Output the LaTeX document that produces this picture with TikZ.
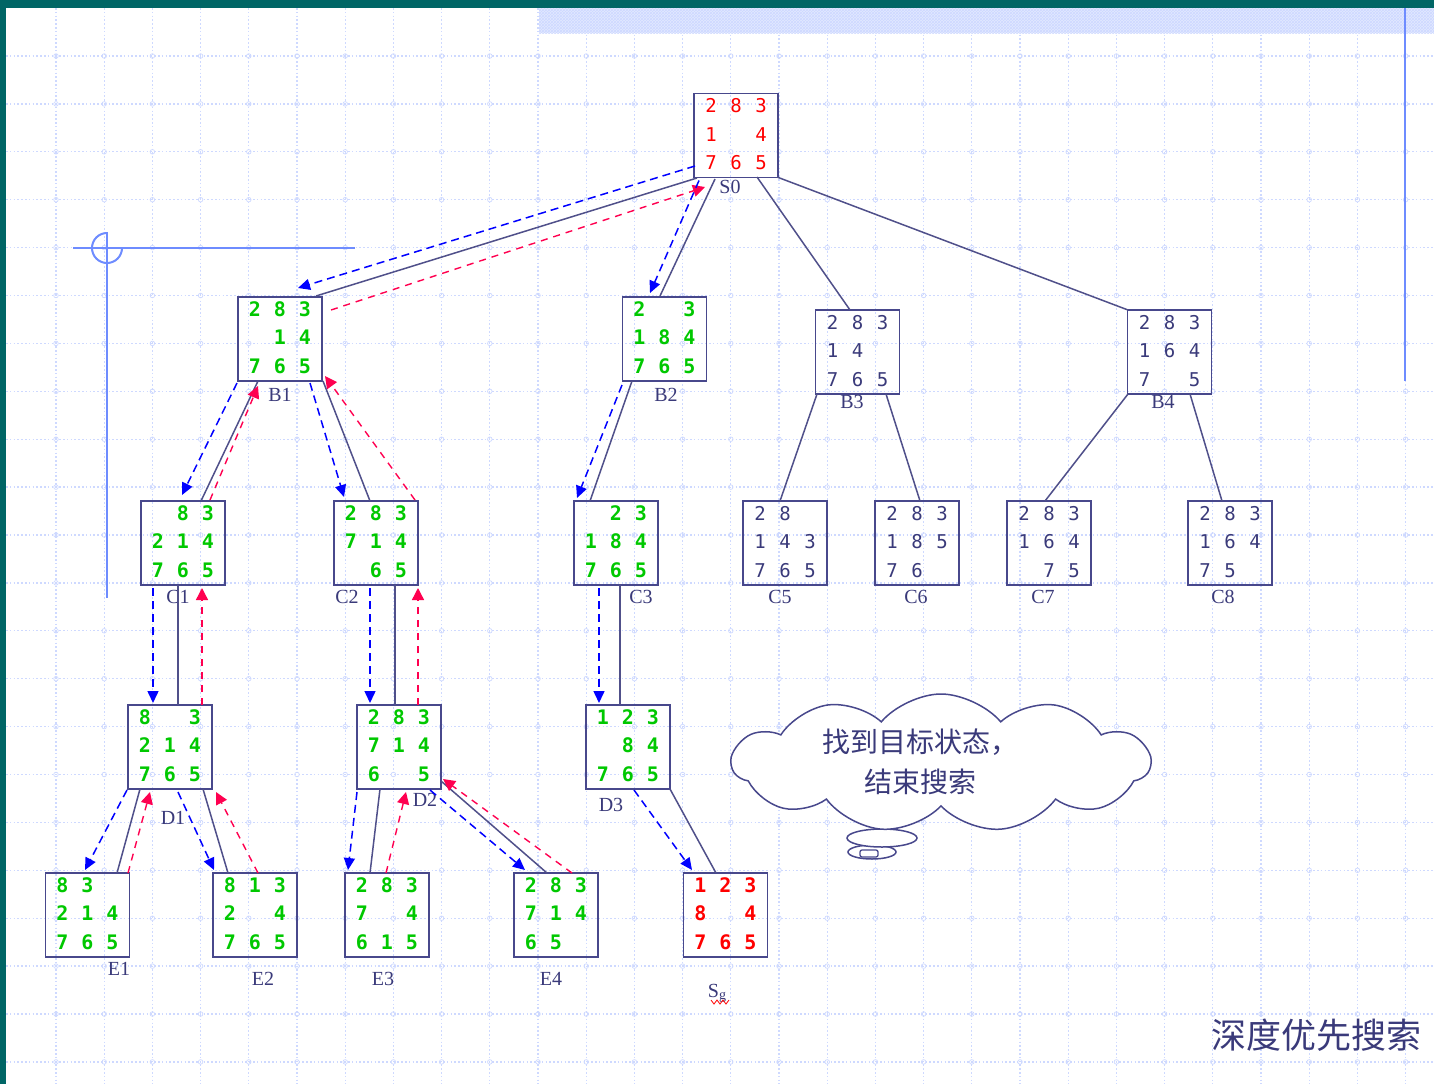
\documentclass[tikz,border=0pt]{standalone}
\usepackage{fontspec}
\usepackage{array}
\setmainfont{Liberation Serif}
\newfontfamily\digitfont{DejaVu Sans Mono}
\newfontfamily\cjk{Noto Sans CJK SC}
\usetikzlibrary{arrows.meta,shapes.symbols,patterns}

\definecolor{tealband}{RGB}{0,102,102}
\definecolor{gridc}{RGB}{206,217,255}
\definecolor{bandc}{RGB}{226,233,255}
\definecolor{guidec}{RGB}{110,140,255}
\definecolor{boxc}{RGB}{72,72,140}
\definecolor{edgec}{RGB}{80,80,138}
\definecolor{inkc}{RGB}{58,58,122}
\definecolor{greenc}{RGB}{0,200,0}
\definecolor{redc}{RGB}{255,0,0}
\definecolor{backc}{RGB}{255,0,80}

% three-by-three board, fixed 25pt cells
\newcommand\cells[9]{\begin{tabular}{@{}wc{25pt}@{}wc{25pt}@{}wc{25pt}@{}}#1&#2&#3\\#4&#5&#6\\#7&#8&#9\end{tabular}}

\tikzset{
  gridl/.style={draw=gridc, line width=1.3pt, dash pattern=on 1.6pt off 2.2pt},
  guide/.style={draw=guidec, line width=2pt},
  pbox/.style={draw=boxc, line width=1.8pt, minimum width=84pt, minimum height=84pt, inner sep=0pt},
  greendig/.style={text=greenc, inner sep=0pt, font=\digitfont\bfseries\fontsize{20}{28.5}\selectfont},
  reddig/.style={text=redc, inner sep=0pt, font=\digitfont\fontsize{19}{28.5}\selectfont},
  redbold/.style={text=redc, inner sep=0pt, font=\digitfont\bfseries\fontsize{20}{28.5}\selectfont},
  darkdig/.style={text=inkc, inner sep=0pt, font=\digitfont\fontsize{19}{28.5}\selectfont},
  lbl/.style={text=inkc, inner sep=0pt, font=\fontsize{20}{20}\selectfont},
  treeedge/.style={draw=edgec, line width=1.5pt},
  godown/.style={draw=blue, line width=1.5pt, dash pattern=on 8pt off 5pt, -{Triangle[length=12pt,width=11pt]}},
  goback/.style={draw=backc, line width=1.4pt, dash pattern=on 7pt off 6pt, -{Triangle[length=12pt,width=12pt]}},
}

\begin{document}
\begin{tikzpicture}[x=1pt,y=-1pt]
\useasboundingbox (0,0) rectangle (1434,1084);
\fill[white] (0,0) rectangle (1434,1084);

% dotted background grid
\foreach \i in {0,...,28} \draw[gridl] ({56+48.2*\i},8) -- ({56+48.2*\i},1084);
\foreach \j in {0,...,21} \draw[gridl] (6,{56+47.9*\j}) -- (1434,{56+47.9*\j});
\foreach \i in {0,...,28} \foreach \j in {0,...,21}
  \draw[gridc, line width=0.7pt] ({56+48.2*\i},{56+47.9*\j}) circle[radius=2.3];

% hatched band and frame
\fill[bandc] (539,8) rectangle (1434,33);
\fill[pattern=crosshatch, pattern color=gridc] (539,8) rectangle (1434,33);
\fill[tealband] (0,0) rectangle (1434,8);
\fill[tealband] (0,0) rectangle (6,1084);

% guide lines
\draw[guide] (73,248) -- (355,248);
\draw[guide] (107,232) -- (107,598);
\draw[guide] (107,233) arc[start angle=270, end angle=0, radius=15];
\draw[guide] (1405,8) -- (1405,381);

% boards
\node[pbox] (S0) at (736,135.5) {};
\node[reddig] (S0n) at (S0) {\cells{2}{8}{3}{1}{}{4}{7}{6}{5}};
\node[pbox] (B1) at (280,339) {};
\node[greendig] (B1n) at (B1) {\cells{2}{8}{3}{}{1}{4}{7}{6}{5}};
\node[pbox] (B2) at (664.5,339) {};
\node[greendig] (B2n) at (B2) {\cells{2}{}{3}{1}{8}{4}{7}{6}{5}};
\node[pbox] (B3) at (857.5,352) {};
\node[darkdig] (B3n) at (B3) {\cells{2}{8}{3}{1}{4}{}{7}{6}{5}};
\node[pbox] (B4) at (1169.5,352) {};
\node[darkdig] (B4n) at (B4) {\cells{2}{8}{3}{1}{6}{4}{7}{}{5}};
\node[pbox] (C1) at (183,543) {};
\node[greendig] (C1n) at (C1) {\cells{}{8}{3}{2}{1}{4}{7}{6}{5}};
\node[pbox] (C2) at (376,543) {};
\node[greendig] (C2n) at (C2) {\cells{2}{8}{3}{7}{1}{4}{}{6}{5}};
\node[pbox] (C3) at (616,543) {};
\node[greendig] (C3n) at (C3) {\cells{}{2}{3}{1}{8}{4}{7}{6}{5}};
\node[pbox] (C5) at (785,543) {};
\node[darkdig] (C5n) at (C5) {\cells{2}{8}{}{1}{4}{3}{7}{6}{5}};
\node[pbox] (C6) at (917,543) {};
\node[darkdig] (C6n) at (C6) {\cells{2}{8}{3}{1}{8}{5}{7}{6}{}};
\node[pbox] (C7) at (1049,543) {};
\node[darkdig] (C7n) at (C7) {\cells{2}{8}{3}{1}{6}{4}{}{7}{5}};
\node[pbox] (C8) at (1230,543) {};
\node[darkdig] (C8n) at (C8) {\cells{2}{8}{3}{1}{6}{4}{7}{5}{}};
\node[pbox] (D1) at (170,747) {};
\node[greendig] (D1n) at (D1) {\cells{8}{}{3}{2}{1}{4}{7}{6}{5}};
\node[pbox] (D2) at (399,747) {};
\node[greendig] (D2n) at (D2) {\cells{2}{8}{3}{7}{1}{4}{6}{}{5}};
\node[pbox] (D3) at (628,747) {};
\node[greendig] (D3n) at (D3) {\cells{1}{2}{3}{}{8}{4}{7}{6}{5}};
\node[pbox] (E1) at (87.5,915) {};
\node[greendig] (E1n) at (E1) {\cells{8}{3}{}{2}{1}{4}{7}{6}{5}};
\node[pbox] (E2) at (255,915) {};
\node[greendig] (E2n) at (E2) {\cells{8}{1}{3}{2}{}{4}{7}{6}{5}};
\node[pbox] (E3) at (387,915) {};
\node[greendig] (E3n) at (E3) {\cells{2}{8}{3}{7}{}{4}{6}{1}{5}};
\node[pbox] (E4) at (556,915) {};
\node[greendig] (E4n) at (E4) {\cells{2}{8}{3}{7}{1}{4}{6}{5}{}};
\node[pbox] (Sg) at (725.5,915) {};
\node[redbold] (Sgn) at (Sg) {\cells{1}{2}{3}{8}{}{4}{7}{6}{5}};

% board names
\node[lbl] (S0l) at (730,187) {S0};
\node[lbl] (B1l) at (280,395) {B1};
\node[lbl] (B2l) at (666,395) {B2};
\node[lbl] (B3l) at (852,402) {B3};
\node[lbl] (B4l) at (1163,402) {B4};
\node[lbl] (C1l) at (178,597) {C1};
\node[lbl] (C2l) at (347,597) {C2};
\node[lbl] (C3l) at (641,597) {C3};
\node[lbl] (C5l) at (780,597) {C5};
\node[lbl] (C6l) at (916,597) {C6};
\node[lbl] (C7l) at (1043,597) {C7};
\node[lbl] (C8l) at (1223,597) {C8};
\node[lbl] (D1l) at (173,818) {D1};
\node[lbl] (D2l) at (425,800) {D2};
\node[lbl] (D3l) at (611,805) {D3};
\node[lbl] (E1l) at (119,969) {E1};
\node[lbl] (E2l) at (263,979) {E2};
\node[lbl] (E3l) at (383,979) {E3};
\node[lbl] (E4l) at (551,979) {E4};
\node[lbl] (Sgl) at (717,993) {S\raisebox{-2pt}{\fontsize{14}{14}\selectfont g}};
\draw[redc, line width=0.8pt] (711,1000) -- (714,1004) -- (717,1000) -- (720,1004) -- (723,1000) -- (726,1004) -- (729,1000);

% S0 -> B1, B2, B3, B4
\draw[godown] ([shift={(-41,30.5)}]S0.center) -- ([shift={(18,-51)}]B1.center);
\draw[treeedge] ([shift={(-39,42.5)}]S0.center) -- ([shift={(36,-43)}]B1.center);
\draw[goback] ([shift={(51,-29)}]B1.center) -- ([shift={(-31,51.5)}]S0.center);
\draw[godown] ([shift={(-37,45)}]S0.center) -- ([shift={(-14.5,-46)}]B2.center);
\draw[treeedge] ([shift={(-21,43.5)}]S0.center) -- ([shift={(-4.5,-43)}]B2.center);
\draw[treeedge] ([shift={(21,41.5)}]S0.center) -- ([shift={(-7.5,-42)}]B3.center);
\draw[treeedge] ([shift={(41,41.5)}]S0.center) -- ([shift={(-41.5,-42)}]B4.center);

% B1 -> C1, C2
\draw[godown] ([shift={(-43,44)}]B1.center) -- ([shift={(-1,-48)}]C1.center);
\draw[treeedge] ([shift={(-22,42)}]B1.center) -- ([shift={(18,-42)}]C1.center);
\draw[goback] ([shift={(27,-43)}]C1.center) -- ([shift={(-22,47)}]B1.center);
\draw[godown] ([shift={(30,44)}]B1.center) -- ([shift={(-32,-46)}]C2.center);
\draw[treeedge] ([shift={(43,42)}]B1.center) -- ([shift={(-6,-42)}]C2.center);
\draw[goback] ([shift={(39,-43)}]C2.center) -- ([shift={(45,37)}]B1.center);

% B2 -> C3
\draw[godown] ([shift={(-42.5,46)}]B2.center) -- ([shift={(-39,-45)}]C3.center);
\draw[treeedge] ([shift={(-32.5,42)}]B2.center) -- ([shift={(-26,-42)}]C3.center);

% B3 -> C5, C6 and B4 -> C7, C8
\draw[treeedge] ([shift={(-40.5,42)}]B3.center) -- ([shift={(-5,-42)}]C5.center);
\draw[treeedge] ([shift={(28.5,42)}]B3.center) -- ([shift={(3,-42)}]C6.center);
\draw[treeedge] ([shift={(-41.5,42)}]B4.center) -- ([shift={(-4,-42)}]C7.center);
\draw[treeedge] ([shift={(20.5,42)}]B4.center) -- ([shift={(-8,-42)}]C8.center);

% C1 -> D1, C2 -> D2, C3 -> D3
\draw[godown] ([shift={(-30,45)}]C1.center) -- ([shift={(-17,-44)}]D1.center);
\draw[treeedge] ([shift={(-5,42)}]C1.center) -- ([shift={(8,-42)}]D1.center);
\draw[goback] ([shift={(32,-42)}]D1.center) -- ([shift={(19,45)}]C1.center);
\draw[godown] ([shift={(-6,45)}]C2.center) -- ([shift={(-29,-44)}]D2.center);
\draw[treeedge] ([shift={(19,42)}]C2.center) -- ([shift={(-4,-42)}]D2.center);
\draw[goback] ([shift={(19,-42)}]D2.center) -- ([shift={(42,45)}]C2.center);
\draw[godown] ([shift={(-17,45)}]C3.center) -- ([shift={(-29,-44)}]D3.center);
\draw[treeedge] ([shift={(4,42)}]C3.center) -- ([shift={(-8,-42)}]D3.center);

% D1 -> E1, E2
\draw[godown] ([shift={(-43,43)}]D1.center) -- ([shift={(-2.5,-45)}]E1.center);
\draw[treeedge] ([shift={(-30,42)}]D1.center) -- ([shift={(29.5,-42)}]E1.center);
\draw[goback] ([shift={(40.5,-42)}]E1.center) -- ([shift={(-20,45)}]D1.center);
\draw[godown] ([shift={(8,45)}]D1.center) -- ([shift={(-41,-45)}]E2.center);
\draw[treeedge] ([shift={(33,42)}]D1.center) -- ([shift={(-27,-42)}]E2.center);
\draw[goback] ([shift={(3,-42)}]E2.center) -- ([shift={(46,45)}]D1.center);

% D2 -> E3, E4
\draw[godown] ([shift={(-42,45)}]D2.center) -- ([shift={(-39,-45)}]E3.center);
\draw[treeedge] ([shift={(-19,42)}]D2.center) -- ([shift={(-17,-42)}]E3.center);
\draw[goback] ([shift={(-1,-42)}]E3.center) -- ([shift={(7,45)}]D2.center);
\draw[godown] ([shift={(31,43)}]D2.center) -- ([shift={(-31,-45)}]E4.center);
\draw[treeedge] ([shift={(42,34)}]D2.center) -- ([shift={(-9,-42)}]E4.center);
\draw[goback] ([shift={(16,-42)}]E4.center) -- ([shift={(44,32)}]D2.center);

% D3 -> Sg
\draw[godown] ([shift={(6,43)}]D3.center) -- ([shift={(-33.5,-45)}]Sg.center);
\draw[treeedge] ([shift={(42,42)}]D3.center) -- ([shift={(-9.5,-42)}]Sg.center);

% thought cloud
\draw[boxc, line width=1.5pt, fill=white] (872,852) ellipse[x radius=24, y radius=7];
\draw[boxc, line width=1.5pt, fill=white] (882,838) ellipse[x radius=35, y radius=9];
\draw[boxc, line width=1.3pt, fill=white, rounded corners=2pt] (860,850) rectangle (878,857);
\node[cloud, cloud puffs=11, cloud puff arc=100, aspect=3, draw=boxc, line width=1.5pt, fill=white,
      minimum width=418pt, minimum height=138pt] (goal) at (941,763) {};
\node[text=inkc, align=center, font=\cjk\fontsize{28}{40}\selectfont] (goalt) at (920,762) {找到目标状态，\\结束搜索};

% title
\node[text=inkc, font=\cjk\fontsize{35}{35}\selectfont] (title) at (1316,1035) {深度优先搜索};
\end{tikzpicture}
\end{document}
